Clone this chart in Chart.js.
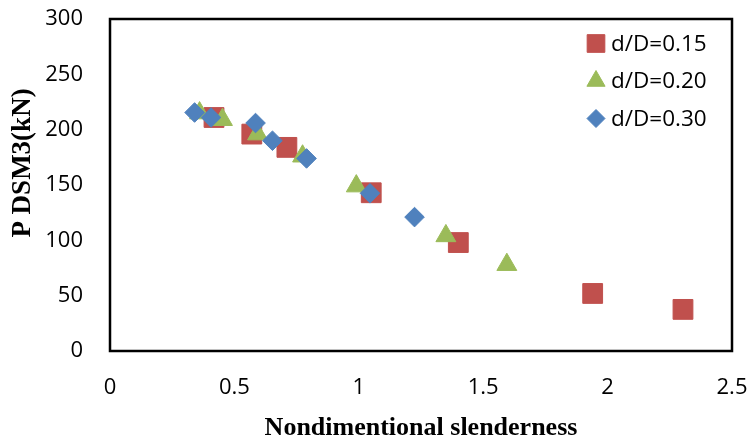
<!DOCTYPE html>
<html>
<head>
<meta charset="utf-8">
<script src="https://cdn.jsdelivr.net/npm/chart.js@4/dist/chart.umd.min.js"></script>
<style>
  body { margin: 0; background: #fff; }
  #wrap { width: 751px; height: 441px; }
</style>
</head>
<body>
<div id="wrap"><canvas id="chart" width="751" height="441"></canvas></div>
<script>
// values: [slenderness, P DSM3 (kN)]
const seriesLabels = ['d/D=0.15', 'd/D=0.20', 'd/D=0.30'];
const slender015 = [0.418, 0.57, 0.711, 1.05, 1.40, 1.94, 2.303];
const load015 = [211, 196, 184, 143, 98, 52, 37.6];
const slender020 = [0.36, 0.452, 0.593, 0.774, 0.99, 1.35, 1.595];
const load020 = [215, 209, 196, 176, 149, 104, 78];
const slender030 = [0.34, 0.406, 0.585, 0.653, 0.79, 1.045, 1.224];
const load030 = [215.5, 211, 206, 190, 174, 142.5, 121];

const xTicks = [0, 0.5, 1, 1.5, 2, 2.5];
const yTicks = [0, 50, 100, 150, 200, 250, 300];

const pairs = (xs, ys) => xs.map((x, i) => ({x: x, y: ys[i]}));

const RED = '#C0504D';
const GREEN = '#9BBB59';
const BLUE = '#4F81BD';

// box round the plot area
const plotBox = {
    id: 'plotBox',
    afterDraw(chart) {
        const {ctx, chartArea: a} = chart;
        ctx.save();
        ctx.strokeStyle = '#000';
        ctx.lineWidth = 2.5;
        ctx.strokeRect(a.left, a.top, a.right - a.left, a.bottom - a.top);
        ctx.restore();
    }
};

// legend inside the plot, top right
const innerLegend = {
    id: 'innerLegend',
    afterDraw(chart) {
        const ctx = chart.ctx;
        const rows = [43.5, 81, 118.5];
        const radii = [12.5, 10.5, 9];
        ctx.save();
        chart.data.datasets.forEach((ds, i) => {
            ctx.fillStyle = ds.backgroundColor;
            ctx.strokeStyle = ds.backgroundColor;
            Chart.helpers.drawPoint(ctx, {
                pointStyle: ds.pointStyle,
                radius: radii[i],
                borderWidth: 1,
                rotation: 0
            }, 596, rows[i]);
            ctx.fillStyle = '#000';
            ctx.font = '22.5px "Open Sans"';
            ctx.textAlign = 'left';
            ctx.textBaseline = 'middle';
            ctx.fillText(ds.label, 611, rows[i] + 1);
        });
        ctx.restore();
    }
};

// y axis title, placed where the reference has it
const yTitle = {
    id: 'yTitle',
    afterDraw(chart) {
        const ctx = chart.ctx;
        ctx.save();
        ctx.translate(23, 163);
        ctx.rotate(-Math.PI / 2);
        ctx.fillStyle = '#000';
        ctx.font = 'bold 27px "Liberation Serif"';
        ctx.textAlign = 'center';
        ctx.textBaseline = 'middle';
        ctx.fillText('P DSM3(kN)', 0, 0);
        ctx.restore();
    }
};

new Chart(document.getElementById('chart'), {
    type: 'scatter',
    data: {
        datasets: [
            {
                label: seriesLabels[0],
                data: pairs(slender015, load015),
                pointStyle: 'rect',
                pointRadius: 14,
                backgroundColor: RED,
                borderColor: RED,
                borderWidth: 1,
                order: 3
            },
            {
                label: seriesLabels[1],
                data: pairs(slender020, load020),
                pointStyle: 'triangle',
                pointRadius: 11.5,
                backgroundColor: GREEN,
                borderColor: GREEN,
                borderWidth: 1,
                order: 2
            },
            {
                label: seriesLabels[2],
                data: pairs(slender030, load030),
                pointStyle: 'rectRot',
                pointRadius: 9.8,
                backgroundColor: BLUE,
                borderColor: BLUE,
                borderWidth: 1,
                order: 1
            }
        ]
    },
    options: {
        responsive: false,
        animation: false,
        events: [],
        layout: {
            autoPadding: false,
            padding: {top: 19, right: 19, left: 0, bottom: 0}
        },
        plugins: {
            legend: {display: false},
            tooltip: {enabled: false}
        },
        scales: {
            x: {
                type: 'linear',
                min: 0,
                max: 2.5,
                afterFit(scale) {
                    scale.height = 90;
                    scale.paddingLeft = 0;
                    scale.paddingRight = 0;
                },
                afterBuildTicks(scale) { scale.ticks = xTicks.map(v => ({value: v})); },
                grid: {display: false, drawTicks: false},
                border: {display: false},
                ticks: {
                    padding: 24,
                    color: '#000',
                    font: {family: 'Open Sans', size: 22},
                    callback: v => String(v)
                },
                title: {
                    display: true,
                    text: 'Nondimentional slenderness',
                    color: '#000',
                    padding: {top: 0, bottom: 0},
                    font: {family: 'Liberation Serif', size: 26, weight: 'bold', lineHeight: 1}
                }
            },
            y: {
                type: 'linear',
                min: 0,
                max: 300,
                afterFit(scale) {
                    scale.width = 110;
                    scale.paddingTop = 0;
                    scale.paddingBottom = 0;
                },
                afterBuildTicks(scale) { scale.ticks = yTicks.map(v => ({value: v})); },
                grid: {display: false, drawTicks: false},
                border: {display: false},
                ticks: {
                    padding: 27,
                    color: '#000',
                    font: {family: 'Open Sans', size: 22},
                    callback: v => String(v)
                }
            }
        }
    },
    plugins: [plotBox, innerLegend, yTitle]
});
</script>
</body>
</html>
